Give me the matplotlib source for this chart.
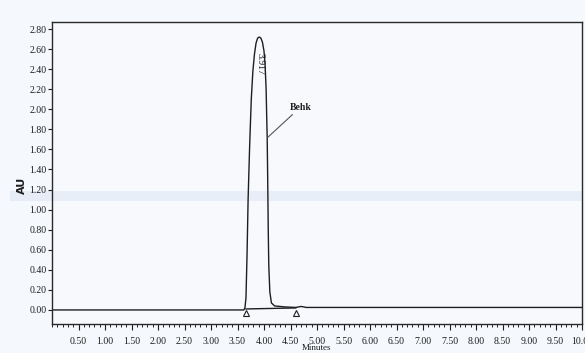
import numpy as np
import matplotlib
matplotlib.use("Agg")
import matplotlib.pyplot as plt

# trace (minutes, AU)
minutes = [0.0, 3.55, 3.62, 3.64, 3.66, 3.68, 3.70, 3.73, 3.76, 3.79, 3.82, 3.85,
           3.88, 3.91, 3.94, 3.97, 4.00, 4.02, 4.04, 4.05, 4.06, 4.07, 4.08,
           4.09, 4.11, 4.14, 4.20, 4.40, 4.60, 4.70, 4.80, 10.0]
au = [0.0, 0.0, 0.0, 0.02, 0.12, 0.55, 1.10, 1.65, 2.10, 2.38, 2.55, 2.66,
      2.71, 2.72, 2.71, 2.67, 2.58, 2.45, 2.20, 1.95, 1.72, 1.30, 0.80,
      0.45, 0.18, 0.07, 0.04, 0.03, 0.025, 0.035, 0.025, 0.025]

peak_rt = 3.917
peak_label = "3.917"
blank_label = "Behk"
tri_x = [3.66, 4.60]
tri_y = [-0.03, -0.03]

yticks = np.round(np.arange(0, 2.81, 0.2), 2)
xticks = np.round(np.arange(0.5, 10.01, 0.5), 2)

plt.rcParams["font.family"] = ["Liberation Serif", "DejaVu Serif"]

fig = plt.figure(figsize=(5.85, 3.53), dpi=100)
fig.patch.set_facecolor("#f5f8fc")
ax = fig.add_axes([52 / 585, 1 - 324 / 353, 530 / 585, 302 / 353])
ax.set_facecolor("#f7f9fd")

# faint scanner streak
ax.axhspan(1.09, 1.19, xmin=-0.08, xmax=1.0, color="#dde5f4", alpha=0.55,
           lw=0, clip_on=False, zorder=0)

ax.plot(minutes, au, color="#1e1e1e", lw=1.0, zorder=2)
ax.plot(tri_x, [0.01, 0.02], color="#1e1e1e", lw=1.0, zorder=2)
ax.plot(tri_x, tri_y, linestyle="none", marker="^", ms=4, mfc="none",
        mec="#1e1e1e", mew=0.8, zorder=3)

ax.text(peak_rt, 2.45, peak_label, rotation=-90, ha="center",
        va="center", fontsize=7, color="#1e1e1e")
ax.annotate(blank_label, xy=(4.07, 1.72), xytext=(4.48, 2.02),
            fontsize=7, fontweight="bold", color="#1e1e1e", va="center",
            arrowprops=dict(arrowstyle="-", color="#555555", lw=0.8,
                            shrinkA=0, shrinkB=0))

ax.set_xlim(0, 10)
ax.set_ylim(-0.14, 2.87)
ax.set_yticks(yticks)
ax.set_yticklabels([f"{v:.2f}" for v in yticks])
ax.set_xticks(xticks)
ax.set_xticklabels([f"{v:.2f}" for v in xticks])
ax.set_xticks(np.round(np.arange(0, 10.01, 0.1), 2), minor=True)
ax.tick_params(axis="both", labelsize=7, colors="#1e1e1e", width=0.8)
ax.tick_params(axis="x", which="major", length=4, pad=5)
ax.tick_params(axis="x", which="minor", length=2, width=0.6)
ax.tick_params(axis="y", length=3, pad=1)
for s in ax.spines.values():
    s.set_color("#2a2a2a")
    s.set_linewidth(1.0)

ax.set_xlabel("Minutes", fontsize=6.5, labelpad=-1, color="#1e1e1e")
ax.set_ylabel("AU", fontsize=8, fontweight="bold", family="DejaVu Sans",
              color="#1e1e1e")
ax.yaxis.set_label_coords(-0.047, 0.46)

fig.savefig("out.png", dpi=100, facecolor=fig.get_facecolor())
